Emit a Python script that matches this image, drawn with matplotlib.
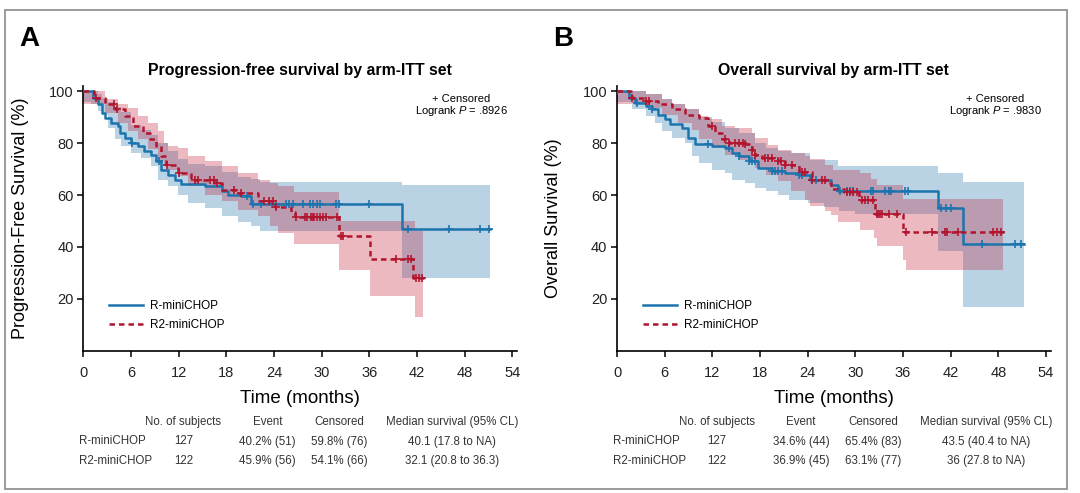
import numpy as np
import matplotlib
matplotlib.use("Agg")
import matplotlib.pyplot as plt
from matplotlib.lines import Line2D
from matplotlib.patches import Rectangle
from matplotlib import font_manager

# ---- data ----
arms = ["R-miniCHOP", "R2-miniCHOP"]
n_subjects = [127, 122]

# panel A - progression-free survival
pfs_r_t = [0, 1.2, 1.85, 2.3, 2.7, 3.5, 4.4, 4.6, 5.2, 6.0, 6.9, 7.7, 8.55, 9.2, 9.8,
           10.65, 11.5, 12.3, 15.3, 17.4, 18.2, 19.9, 21.1, 40.1, 51.2]
pfs_r_s = [100, 97.5, 94.9, 91.7, 89.8, 87.8, 86.5, 84, 82, 80.1, 78.8, 76.9, 75.6, 73, 69.8,
           67.9, 65.9, 64.3, 63.4, 61.4, 60.2, 59.5, 56.6, 47.0, 47.0]
pfs_r_band_t = [0, 1.0, 1.85, 2.3, 3.1, 3.95, 4.8, 6.0, 7.3, 8.55, 9.4, 10.65, 11.9, 13.2,
                15.3, 17.4, 19.5, 21.1, 22.2, 40.1, 51.2]
pfs_r_lo = [96, 95, 92.3, 91, 85.9, 81.4, 78.8, 76.3, 74.3, 71.1, 65.9, 63.4, 60.2, 57,
            55, 51.8, 49.8, 47.9, 46.0, 28.0, 28.0]
pfs_r_hi = [100, 100, 99, 97.5, 96, 94, 92, 87, 85, 83, 80, 77, 74, 72,
            71, 69, 67, 66, 65, 64, 64]
pfs_r_cens = [6.1, 9.5, 20.6, 21.4, 22.4, 23.7, 24.2, 25.5, 25.9, 26.4, 27.7, 28.5, 28.9,
              29.4, 29.8, 31.8, 32.2, 36.0, 40.9, 46.0, 49.9, 51.1]

pfs_r2_t = [0, 1.4, 2.7, 3.95, 5.2, 6.25, 7.5, 8.35, 9.2, 9.8, 10.4, 11.9, 13.6, 16.5, 17.4,
            19.5, 22, 24.1, 26.2, 26.6, 32.2, 36.1, 41.5, 43.0]
pfs_r2_s = [100, 97.5, 94.9, 93, 90.4, 86.5, 84, 81.4, 78.8, 75, 71.7, 68.5, 65.9, 64.7, 62.1,
            60.8, 57.6, 55.2, 53.3, 51.4, 44.1, 35.3, 28.0, 28.0]
pfs_r2_band_t = [0, 0.8, 2.7, 4.4, 5.6, 6.9, 8.1, 9.4, 10.2, 10.65, 11.9, 13.2, 15.3, 17.4,
                 19.5, 22, 23.5, 24.5, 26.5, 32.2, 36.1, 41.7, 42.8]
pfs_r2_lo = [95, 95, 91.7, 87.8, 84.6, 81.4, 77.6, 73, 71, 69.8, 67.2, 63.3, 60.2, 57.6,
             54.4, 52, 48, 45.5, 41, 31, 21, 13, 13]
pfs_r2_hi = [100, 100, 97, 95, 93.5, 90.4, 87.8, 84.6, 80.1, 79, 78, 75, 73, 71.1,
             68.5, 65.9, 64.7, 63.5, 61, 50.1, 50.1, 46, 46]
pfs_r2_cens = [1.6, 3.9, 4.2, 10.5, 12.0, 14.0, 14.5, 16.0, 16.4, 16.8, 19.0, 19.8, 22.7,
               23.4, 23.9, 24.3, 26.8, 27.9, 28.1, 28.7, 28.9, 29.1, 29.4, 29.8, 30.2, 30.6,
               31.9, 32.5, 32.7, 39.4, 40.9, 41.3, 41.9, 42.3, 42.7]

# panel B - overall survival
os_r_t = [0, 1.5, 2.3, 3.6, 4.4, 5.2, 6.1, 6.7, 8.2, 9.0, 9.85, 11.9, 13.6, 14.5, 15.3,
          16.6, 17.8, 19.5, 21.2, 22.9, 24.3, 27.0, 27.8, 40.4, 43.6, 51.3]
os_r_s = [100, 97.5, 95.6, 94.2, 93, 91, 89.1, 87.2, 85.9, 82, 79.7, 78.8, 78.2, 76.3, 74.9,
          73, 70.5, 69.4, 68.5, 67.9, 65.9, 64, 61.7, 55, 41.2, 41.2]
os_r_lo_t = [0, 1.9, 3.6, 4.8, 5.7, 6.9, 8.6, 9.4, 10.3, 11.9, 13.6, 14.5, 16.1, 17.4,
             18.7, 20.3, 21.6, 24.0, 26.0, 28.0, 30.0, 40.4, 43.6, 51.3]
os_r_lo = [96, 93, 90.4, 87.8, 84.6, 82, 80.1, 74.9, 72.4, 69.8, 68.5, 65.9, 64.7, 62.7,
           61.4, 60.2, 58.2, 57, 55.5, 53.7, 52.8, 38.3, 17, 17]
os_r_hi_t = [0, 1.9, 3.6, 5.7, 6.9, 8.6, 10.3, 11.9, 13.6, 15.3, 17.4, 18.7, 20.3, 22,
             24.3, 27.8, 40.4, 43.6, 51.3]
os_r_hi = [100, 100, 99, 97, 95, 93, 90, 88, 86, 84, 80, 78, 77, 76,
           73.5, 71.1, 68.5, 64.9, 64.9]
os_r_cens = [2.5, 4.4, 11.5, 14.1, 15.3, 16.6, 17.0, 17.4, 19.5, 19.9, 20.3, 20.8, 22.9,
             23.3, 24.6, 25.0, 28.1, 28.9, 29.3, 29.7, 32.0, 32.2, 33.7, 34.3, 34.5, 36.2,
             36.6, 40.8, 41.4, 42.1, 46.0, 50.1, 50.9]

os_r2_t = [0, 1.9, 3.6, 5.2, 6.9, 8.6, 10.3, 11.5, 12.4, 13.2, 14.05, 16.1, 17.0, 17.4,
           18.2, 20.3, 21.2, 22.9, 24.5, 26.4, 27.0, 28.6, 30.5, 32.5, 36.0, 48.8]
os_r2_s = [100, 97.5, 96.2, 94.9, 93, 91, 89.8, 86.5, 84, 81.4, 80.1, 79.5, 77.5, 75.6,
           74.3, 73, 71.7, 68.9, 65.7, 64.6, 62.3, 61, 58.2, 52.8, 45.6, 45.6]
os_r2_lo_t = [0, 1.9, 3.6, 5.7, 7.7, 9.4, 10.3, 11.9, 13.6, 15.3, 17.4, 18.7, 20.3, 21.9,
              23.7, 24.3, 26.2, 27.0, 27.8, 30.6, 32.3, 32.7, 36.0, 36.4, 48.6]
os_r2_lo = [95, 95.6, 93.5, 91, 87.8, 85.2, 81.4, 78.2, 75.6, 73.6, 70.5, 67.9, 65.3, 61.4,
            58.2, 55.6, 53.7, 52.5, 49.8, 46.6, 43.4, 40.2, 35, 31.2, 31.2]
os_r2_hi_t = [0, 1.9, 3.6, 5.7, 6.9, 8.6, 10.3, 11.5, 13.2, 14.9, 17.0, 17.4, 19.0, 20.3,
              21.9, 23.7, 24.3, 26.2, 27.2, 30.6, 32.0, 32.7, 36.0, 48.6]
os_r2_hi = [100, 100, 98.8, 96.9, 94.9, 93, 90.4, 89.1, 86.5, 85.9, 84, 82, 79.4, 77.5,
            76.3, 74.9, 73.7, 71.7, 69.8, 68.3, 66.2, 64, 58.5, 58.5]
os_r2_cens = [0, 1.9, 3.6, 4.0, 12.0, 13.6, 14.05, 14.9, 15.3, 15.9, 16.1, 17.0, 17.4, 18.6,
              19.0, 19.5, 20.3, 20.7, 21.2, 22.0, 23.3, 23.7, 24.5, 25.8, 26.2, 28.9, 29.3,
              29.7, 30.2, 30.8, 31.2, 31.6, 32.2, 32.7, 32.9, 33.1, 33.3, 34.3, 35.2, 36.4,
              39.6, 41.3, 41.5, 42.9, 47.3, 47.9, 48.4]

# summary tables
pfs_event = ["40.2% (51)", "45.9% (56)"]
pfs_censored = ["59.8% (76)", "54.1% (66)"]
pfs_median = ["40.1 (17.8 to NA)", "32.1 (20.8 to 36.3)"]
os_event = ["34.6% (44)", "36.9% (45)"]
os_censored = ["65.4% (83)", "63.1% (77)"]
os_median = ["43.5 (40.4 to NA)", "36 (27.8 to NA)"]

x_ticks = list(range(0, 55, 6))
y_ticks = [20, 40, 60, 80, 100]

# ---- style ----
BLUE = "#1c74ae"
RED = "#b3152e"
BLUE_FILL = "#1a6eab"
RED_FILL = "#c21a32"

names = {f.name for f in font_manager.fontManager.ttflist}
narrow = "Liberation Sans Narrow" if "Liberation Sans Narrow" in names else "Liberation Sans"
label_size = 15.5 if narrow == "Liberation Sans Narrow" else 13
plt.rcParams["font.family"] = ["Liberation Sans", "DejaVu Sans"]
plt.rcParams["mathtext.fontset"] = "custom"
plt.rcParams["mathtext.it"] = "Liberation Sans:italic"
plt.rcParams["mathtext.rm"] = "Liberation Sans"

W, H = 1080, 493
fig = plt.figure(figsize=(W / 100, H / 100), dpi=100)
fig.patches.append(Rectangle((5 / W, 1 - 489 / H), 1062 / W, 479 / H, transform=fig.transFigure,
                             fill=False, edgecolor="#8a8a8a", lw=1.2))


def step_at(t, v, x):
    idx = np.searchsorted(np.asarray(t), x, side="right") - 1
    return np.asarray(v, dtype=float)[np.clip(idx, 0, None)]


def band(ax, t_lo, lo, t_hi, hi, color):
    end = min(t_lo[-1], t_hi[-1])
    grid = np.union1d(t_lo, t_hi)
    grid = grid[grid <= end]
    ax.fill_between(grid, step_at(t_lo, lo, grid), step_at(t_hi, hi, grid),
                    step="post", color=color, alpha=0.3, lw=0)


def curve(ax, t, s, cens, color, dashed):
    ls = (0, (2.2, 1.6)) if dashed else "-"
    ax.step(t, s, where="post", color=color, lw=1.8, linestyle=ls, zorder=3)
    ax.plot(cens, step_at(t, s, cens), linestyle="none", marker="+", ms=5.5, mew=1.2,
            color=color, zorder=4)


AX_W = 433.7 / W
AX_H = 264.8 / H
AX_B = 1 - 350.8 / H


def panel(left_px, letter, title, ylabel, pval, r, r2, event, cens, median):
    ax = fig.add_axes([left_px / W, AX_B, AX_W, AX_H])
    band(ax, *r[2:6], BLUE_FILL)
    band(ax, *r2[2:6], RED_FILL)
    curve(ax, r[0], r[1], r[6], BLUE, False)
    curve(ax, r2[0], r2[1], r2[6], RED, True)

    ax.set_xlim(0, 54.6)
    ax.set_ylim(0, 102)
    ax.set_xticks(x_ticks)
    ax.set_yticks(y_ticks)
    for sp in ("top", "right"):
        ax.spines[sp].set_visible(False)
    for sp in ("left", "bottom"):
        ax.spines[sp].set_linewidth(1.2)
    ax.tick_params(axis="both", direction="out", length=4, width=1.1, labelsize=10.5,
                   labelcolor="#222222")
    ax.tick_params(axis="x", pad=7)
    ax.tick_params(axis="y", pad=3)

    ax.set_ylabel(ylabel, family=narrow, fontsize=label_size)
    ax.yaxis.set_label_coords(-0.126, 0.5)
    ax.set_xlabel("Time (months)", family=narrow, fontsize=label_size + 0.5, va="center")
    ax.xaxis.set_label_coords(0.5, -0.182)

    ax.text(0.5, 1.06, title, transform=ax.transAxes, ha="center", va="center",
            fontsize=11.4, fontweight="bold")
    ax.text(0.872, 0.952, "+ Censored", transform=ax.transAxes, ha="center", va="center",
            fontsize=8)
    ax.text(0.872, 0.904, "Logrank $P$ = " + pval, transform=ax.transAxes, ha="center",
            va="center", fontsize=8)

    handles = [Line2D([], [], color=BLUE, lw=1.8),
               Line2D([], [], color=RED, lw=1.8, linestyle=(0, (2.2, 1.6)))]
    ax.legend(handles, arms, loc="lower left", bbox_to_anchor=(0.035, 0.035), frameon=False,
              fontsize=8.5, handlelength=2.9, handletextpad=0.6, labelspacing=0.55)

    fig.text((left_px - 64) / W, 1 - 39 / H, letter, ha="left", va="center", fontsize=20,
             fontweight="bold")

    # summary table under the axes
    tc = "#333333"
    fs = 8.3
    cols = [100, 184, 256, 369]
    heads = ["No. of subjects", "Event", "Censored", "Median survival (95% CL)"]
    for c, h in zip(cols, heads):
        fig.text((left_px + c) / W, 1 - 421.7 / H, h, ha="center", va="center", fontsize=fs,
                 color=tc)
    for i, y in enumerate([441.5, 461.2]):
        vals = [str(n_subjects[i]), event[i], cens[i], median[i]]
        fig.text((left_px - 3.8) / W, 1 - y / H, arms[i], ha="left", va="center",
                 fontsize=fs, color=tc)
        for c, v in zip(cols, vals):
            fig.text((left_px + c) / W, 1 - y / H, v, ha="center", va="center", fontsize=fs,
                     color=tc)
    return ax


panel(83.3, "A", "Progression-free survival by arm-ITT set", "Progression-Free Survival (%)",
      ".8926",
      (pfs_r_t, pfs_r_s, pfs_r_band_t, pfs_r_lo, pfs_r_band_t, pfs_r_hi, pfs_r_cens),
      (pfs_r2_t, pfs_r2_s, pfs_r2_band_t, pfs_r2_lo, pfs_r2_band_t, pfs_r2_hi, pfs_r2_cens),
      pfs_event, pfs_censored, pfs_median)

panel(617.0, "B", "Overall survival by arm-ITT set", "Overall Survival (%)", ".9830",
      (os_r_t, os_r_s, os_r_lo_t, os_r_lo, os_r_hi_t, os_r_hi, os_r_cens),
      (os_r2_t, os_r2_s, os_r2_lo_t, os_r2_lo, os_r2_hi_t, os_r2_hi, os_r2_cens),
      os_event, os_censored, os_median)

fig.savefig("out.png", dpi=100, facecolor="white")
